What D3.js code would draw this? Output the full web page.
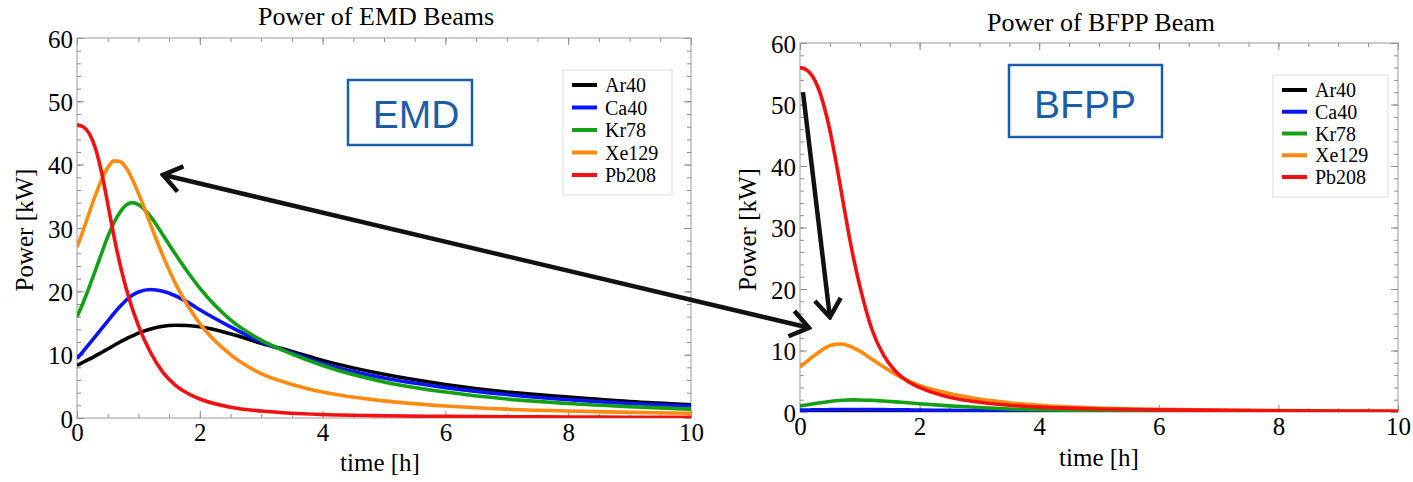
<!DOCTYPE html>
<html>
<head>
<meta charset="utf-8">
<script src="https://cdn.jsdelivr.net/npm/d3@7"></script>
<style>
  body { margin: 0; background: #fff; }
  svg { display: block; }
  .tick text { font-family: "Liberation Serif", "Times New Roman", serif; }
</style>
</head>
<body>
<svg id="svg" width="1413" height="482"></svg>
<script>
// series names + colours (same for both panels)
const seriesNames = ["Ar40", "Ca40", "Kr78", "Xe129", "Pb208"];
const seriesColors = ["#000000", "#0a14f5", "#14a014", "#ff8a10", "#f21010"];

// time grid [h], shared by every curve
const times = [0, 0.1, 0.2, 0.3, 0.4, 0.5, 0.6, 0.7, 0.8, 0.9, 1.0, 1.2, 1.4, 1.6, 1.8, 2.0, 2.5, 3, 3.5, 4, 5, 6, 7, 8, 9, 10];

// EMD beam power [kW]
const emdAr40  = [8.3, 8.8, 9.3, 9.8, 10.35, 10.9, 11.45, 12.0, 12.5, 12.95, 13.4, 14.05, 14.5, 14.65, 14.6, 14.4, 13.3, 11.8, 10.5, 9.1, 6.9, 5.3, 4.1, 3.3, 2.6, 2.1];
const emdCa40  = [9.4, 10.5, 11.7, 12.9, 14.1, 15.3, 16.5, 17.6, 18.6, 19.4, 19.9, 20.3, 20.0, 19.3, 18.3, 17.1, 14.4, 12.0, 10.3, 8.6, 6.3, 4.8, 3.7, 2.9, 2.3, 1.9];
const emdKr78  = [16.0, 18.2, 20.7, 23.3, 26.0, 28.6, 30.8, 32.5, 33.6, 34.0, 33.7, 31.8, 28.9, 25.9, 23.1, 20.5, 15.5, 12.3, 10.1, 8.3, 5.7, 4.1, 3.0, 2.3, 1.8, 1.4];
const emdXe129 = [27.0, 29.6, 32.4, 35.2, 37.6, 39.5, 40.6, 40.5, 39.5, 37.7, 35.5, 30.5, 25.6, 21.3, 17.8, 14.9, 10.0, 7.0, 5.3, 4.1, 2.7, 1.9, 1.4, 1.1, 0.9, 0.75];
const emdPb208 = [46.3, 46.0, 44.9, 42.6, 38.8, 33.9, 28.8, 24.3, 20.5, 17.3, 14.6, 10.3, 7.2, 5.2, 3.9, 3.0, 1.7, 1.1, 0.75, 0.55, 0.35, 0.25, 0.2, 0.15, 0.12, 0.1];

// BFPP beam power [kW]
const bfppAr40  = [0.08, 0.09, 0.1, 0.11, 0.12, 0.13, 0.13, 0.14, 0.14, 0.15, 0.15, 0.15, 0.15, 0.15, 0.14, 0.14, 0.12, 0.11, 0.09, 0.08, 0.06, 0.05, 0.04, 0.03, 0.025, 0.02];
const bfppCa40  = [0.3, 0.32, 0.34, 0.36, 0.37, 0.38, 0.39, 0.4, 0.4, 0.4, 0.4, 0.39, 0.38, 0.36, 0.34, 0.32, 0.27, 0.22, 0.17, 0.13, 0.08, 0.05, 0.03, 0.02, 0.015, 0.01];
const bfppKr78  = [1.0, 1.15, 1.3, 1.45, 1.6, 1.72, 1.82, 1.9, 1.95, 1.97, 1.96, 1.9, 1.78, 1.65, 1.5, 1.35, 1.0, 0.72, 0.5, 0.36, 0.2, 0.11, 0.07, 0.05, 0.03, 0.02];
const bfppXe129 = [7.3, 8.1, 8.9, 9.6, 10.3, 10.8, 11.0, 11.05, 10.8, 10.4, 9.9, 8.6, 7.3, 6.1, 5.1, 4.3, 3.0, 2.1, 1.5, 1.1, 0.65, 0.42, 0.3, 0.22, 0.17, 0.14];
const bfppPb208 = [56.0, 55.7, 54.7, 52.8, 49.8, 45.8, 40.8, 35.3, 29.8, 24.8, 20.5, 13.5, 9.2, 6.6, 5.0, 4.0, 2.4, 1.6, 1.1, 0.8, 0.5, 0.35, 0.27, 0.2, 0.15, 0.12];

// axis ticks
const xTicks = [0, 2, 4, 6, 8, 10];
const yTicks = [0, 10, 20, 30, 40, 50, 60];

// annotation arrows, in data coordinates
const arrowEmd  = [1.40, 38.4];   // left head, EMD panel
const arrowBfpp = [0.15, 13.7];   // right head, BFPP panel
const arrowDown = [[0.05, 52], [0.5, 15.4]]; // BFPP panel

const serif = '"Liberation Serif", "Times New Roman", serif';
const sans = '"Liberation Sans", Arial, Helvetica, sans-serif';

let mySvg = d3.select('#svg');

// open chevron arrow head
mySvg.append("defs").append("marker")
    .attr("id", "head")
    .attr("markerUnits", "userSpaceOnUse")
    .attr("viewBox", "0 0 24 30")
    .attr("refX", 21).attr("refY", 15)
    .attr("markerWidth", 24).attr("markerHeight", 30)
    .attr("orient", "auto-start-reverse")
    .append("path")
    .attr("d", "M3,2 L21,15 L3,28")
    .attr("fill", "none")
    .attr("stroke", "#111")
    .attr("stroke-width", 4.5);

function drawPanel(p) {
    let xScale = d3.scaleLinear().domain([0, 10]).range([p.left, p.right]);
    let yScale = d3.scaleLinear().domain([0, 60]).range([p.bottom, p.top]);
    let g = mySvg.append("g");

    g.append("clipPath").attr("id", "clip-" + p.id)
        .append("rect")
        .attr("x", p.left).attr("y", p.top)
        .attr("width", p.right - p.left).attr("height", p.bottom - p.top);

    // frame ticks (inside), major + minor on all four sides
    const axes = [
        [d3.axisBottom(xScale), `translate(0,${p.bottom})`, d3.range(0, 10.01, 0.5), 4],
        [d3.axisBottom(xScale), `translate(0,${p.bottom})`, xTicks, 7],
        [d3.axisTop(xScale), `translate(0,${p.top})`, d3.range(0, 10.01, 0.5), 4],
        [d3.axisTop(xScale), `translate(0,${p.top})`, xTicks, 7],
        [d3.axisLeft(yScale), `translate(${p.left},0)`, d3.range(0, 60.1, 2), 4],
        [d3.axisLeft(yScale), `translate(${p.left},0)`, yTicks, 7],
        [d3.axisRight(yScale), `translate(${p.right},0)`, d3.range(0, 60.1, 2), 4],
        [d3.axisRight(yScale), `translate(${p.right},0)`, yTicks, 7]
    ];
    axes.forEach(([ax, tr, vals, len]) => {
        let a = g.append("g").attr("transform", tr)
            .call(ax.tickValues(vals).tickSize(-len).tickFormat(""));
        a.select(".domain").remove();
        a.selectAll(".tick line").attr("stroke", "#8a8a8a");
    });

    // tick labels
    let xa = g.append("g").attr("transform", `translate(0,${p.bottom})`)
        .call(d3.axisBottom(xScale).tickValues(xTicks).tickSize(0).tickPadding(5));
    let ya = g.append("g").attr("transform", `translate(${p.left},0)`)
        .call(d3.axisLeft(yScale).tickValues(yTicks).tickSize(0).tickPadding(4));
    [xa, ya].forEach(a => {
        a.select(".domain").remove();
        a.selectAll(".tick text").attr("font-size", 25).attr("fill", "#000")
            .attr("font-family", serif);
    });
    ya.selectAll(".tick text").attr("dy", "0.36em");

    g.append("rect")
        .attr("x", p.left).attr("y", p.top)
        .attr("width", p.right - p.left).attr("height", p.bottom - p.top)
        .attr("fill", "none").attr("stroke", "#9a9a9a").attr("stroke-width", 1);

    // curves
    let line = d3.line()
        .x((d, i) => xScale(times[i]))
        .y(d => yScale(d))
        .curve(d3.curveMonotoneX);
    g.append("g").attr("clip-path", `url(#clip-${p.id})`)
        .selectAll("path")
        .data(p.series)
        .enter().append("path")
        .attr("d", d => line(d))
        .attr("fill", "none")
        .attr("stroke", (d, i) => seriesColors[i])
        .attr("stroke-width", 3.6)
        .attr("stroke-linejoin", "round");

    // titles
    g.append("text").attr("x", p.titleX).attr("y", p.titleY)
        .attr("text-anchor", "middle").attr("font-family", serif).attr("font-size", 26)
        .text(p.title);
    g.append("text").attr("x", p.xLabelX).attr("y", p.xLabelY)
        .attr("text-anchor", "middle").attr("font-family", serif).attr("font-size", 25)
        .text("time [h]");
    g.append("text")
        .attr("transform", `translate(${p.yLabelX},${(p.top + p.bottom) / 2 + 2}) rotate(-90)`)
        .attr("text-anchor", "middle").attr("font-family", serif).attr("font-size", 25)
        .text("Power [kW]");

    // legend
    let lg = p.legend;
    g.append("rect")
        .attr("x", lg.x).attr("y", lg.y).attr("width", lg.w).attr("height", lg.h)
        .attr("fill", "#fff").attr("stroke", "#dcdcdc");
    let ly = d3.scalePoint().domain(seriesNames).range([lg.y + 15, lg.y + lg.h - 20]);
    let items = g.selectAll(".leg-" + p.id).data(seriesNames).enter().append("g");
    items.append("line")
        .attr("x1", lg.x + 9).attr("x2", lg.x + 34)
        .attr("y1", d => ly(d)).attr("y2", d => ly(d))
        .attr("stroke", (d, i) => seriesColors[i]).attr("stroke-width", 4);
    items.append("text")
        .attr("x", lg.x + 42).attr("y", d => ly(d)).attr("dy", "0.35em")
        .attr("font-family", serif).attr("font-size", 20)
        .text(d => d);

    // tag box
    let tg = p.tag;
    g.append("rect")
        .attr("x", tg.x).attr("y", tg.y).attr("width", tg.w).attr("height", tg.h)
        .attr("fill", "none").attr("stroke", "#1b5ea8").attr("stroke-width", 2.5);
    g.append("text")
        .attr("x", tg.tx).attr("y", tg.ty)
        .attr("text-anchor", "middle").attr("font-family", sans).attr("font-size", 39)
        .attr("fill", "#1b5ea8")
        .text(tg.text);

    return { x: xScale, y: yScale };
}

let emd = drawPanel({
    id: "emd", left: 77, right: 691, top: 38, bottom: 418,
    series: [emdAr40, emdCa40, emdKr78, emdXe129, emdPb208],
    title: "Power of EMD Beams", titleX: 376, titleY: 25,
    xLabelX: 380, xLabelY: 471, yLabelX: 33,
    legend: { x: 563, y: 70, w: 109, h: 125 },
    tag: { x: 348, y: 80, w: 124, h: 65, tx: 416, ty: 128, text: "EMD" }
});

let bfpp = drawPanel({
    id: "bfpp", left: 800, right: 1398, top: 43, bottom: 412,
    series: [bfppAr40, bfppCa40, bfppKr78, bfppXe129, bfppPb208],
    title: "Power of BFPP Beam", titleX: 1101, titleY: 31,
    xLabelX: 1099, xLabelY: 466, yLabelX: 756,
    legend: { x: 1273, y: 75, w: 115, h: 122 },
    tag: { x: 1009, y: 65, w: 153, h: 72, tx: 1085, ty: 118, text: "BFPP" }
});

// arrows
mySvg.append("line")
    .attr("x1", emd.x(arrowEmd[0])).attr("y1", emd.y(arrowEmd[1]))
    .attr("x2", bfpp.x(arrowBfpp[0])).attr("y2", bfpp.y(arrowBfpp[1]))
    .attr("stroke", "#111").attr("stroke-width", 4.5)
    .attr("marker-start", "url(#head)").attr("marker-end", "url(#head)");
mySvg.append("line")
    .attr("x1", bfpp.x(arrowDown[0][0])).attr("y1", bfpp.y(arrowDown[0][1]))
    .attr("x2", bfpp.x(arrowDown[1][0])).attr("y2", bfpp.y(arrowDown[1][1]))
    .attr("stroke", "#111").attr("stroke-width", 4.5)
    .attr("marker-end", "url(#head)");
</script>
</body>
</html>
